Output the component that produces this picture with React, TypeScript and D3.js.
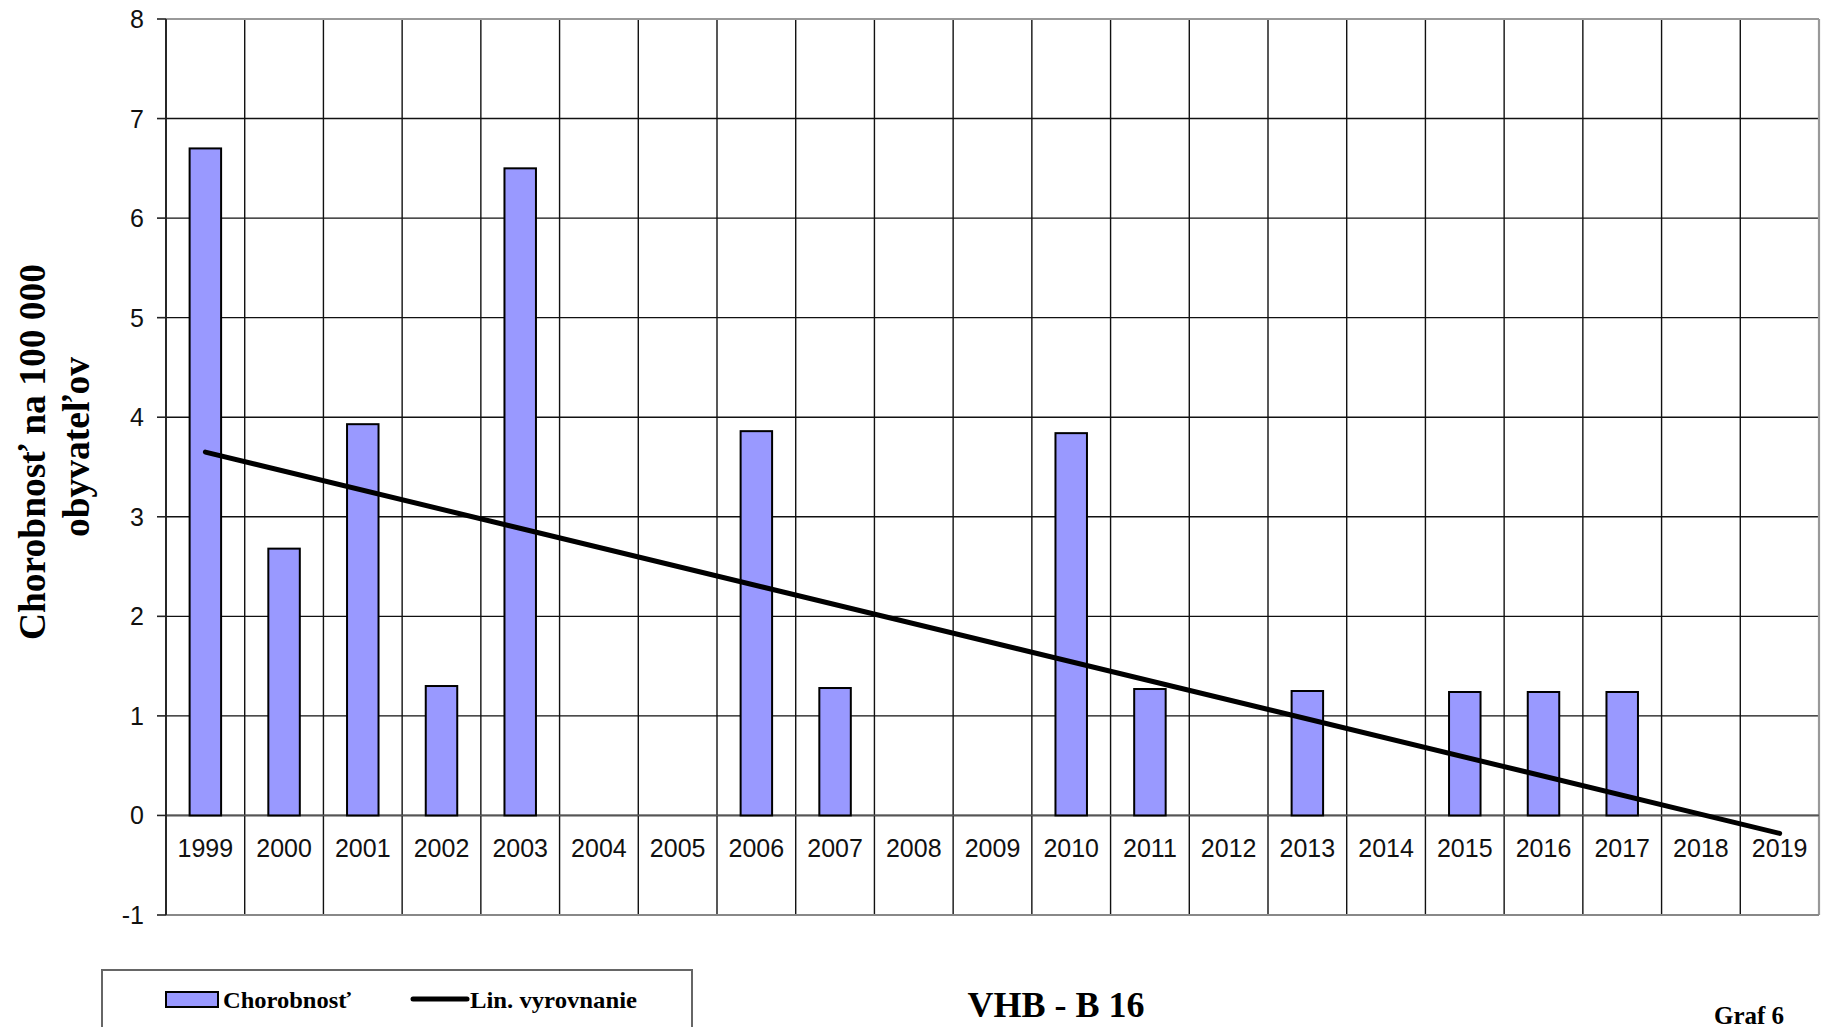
import React from "react";
import * as d3 from "d3";

const years: string[] = ["1999","2000","2001","2002","2003","2004","2005","2006","2007","2008","2009","2010","2011","2012","2013","2014","2015","2016","2017","2018","2019"];
const morbidity: (number | null)[] = [6.7, 2.68, 3.93, 1.3, 6.5, null, null, 3.86, 1.28, null, null, 3.84, 1.27, null, 1.25, null, 1.24, 1.24, 1.24, null, null];
const trendYears: string[] = ["1999", "2019"];
const trendValues: number[] = [3.65, -0.18];
const yTicks: number[] = [8, 7, 6, 5, 4, 3, 2, 1, 0, -1];

const W = 1822;
const H = 1027;
const left = 166;
const right = 1819;
const top = 19;
const bottom = 915;

export default function App() {
  const x = d3.scaleBand<string>().domain(years).range([left, right]).padding(0);
  const y = d3.scaleLinear().domain([-1, 8]).range([bottom, top]);
  const bw = x.bandwidth();
  const barW = bw * 0.4;
  const line = d3
    .line<number>()
    .x((_, i) => (x(trendYears[i]) as number) + bw / 2)
    .y((d) => y(d));

  const serif = "'Liberation Serif', 'Times New Roman', serif";
  const sans = "'Liberation Sans', Arial, sans-serif";

  return (
    <svg
      width={W}
      height={H}
      style={{ position: "absolute", left: 0, top: 0, display: "block", background: "#fff" }}
    >
      <rect x={0} y={0} width={W} height={H} fill="#fff" />
      {yTicks.map((t) => (
        <line key={"h" + t} x1={left} x2={right} y1={y(t)} y2={y(t)} stroke="#111" strokeWidth={1.4} />
      ))}
      {years.map((yr) => (
        <line
          key={"v" + yr}
          x1={x(yr) as number}
          x2={x(yr) as number}
          y1={top}
          y2={bottom}
          stroke="#111"
          strokeWidth={1.4}
        />
      ))}
      <line x1={left} x2={right} y1={top} y2={top} stroke="#999" strokeWidth={2.2} />
      <line x1={right} x2={right} y1={top} y2={bottom} stroke="#999" strokeWidth={2.2} />
      <line x1={left} x2={right} y1={bottom} y2={bottom} stroke="#888" strokeWidth={2.2} />
      <line x1={left} x2={right} y1={y(0)} y2={y(0)} stroke="#555" strokeWidth={1.8} />
      <line x1={left} x2={left} y1={top} y2={bottom} stroke="#222" strokeWidth={1.8} />
      {yTicks.map((t) => (
        <g key={"t" + t}>
          <line x1={left - 9} x2={left} y1={y(t)} y2={y(t)} stroke="#222" strokeWidth={1.6} />
          <text
            x={144}
            y={y(t)}
            dy="0.36em"
            textAnchor="end"
            fontFamily={sans}
            fontSize={25}
            fill="#111"
          >
            {t}
          </text>
        </g>
      ))}
      {years.map((yr, i) => {
        const v = morbidity[i];
        if (v == null) return null;
        return (
          <rect
            key={"b" + yr}
            x={(x(yr) as number) + bw / 2 - barW / 2}
            y={y(v)}
            width={barW}
            height={y(0) - y(v)}
            fill="#9999FF"
            stroke="#000"
            strokeWidth={2}
          />
        );
      })}
      {years.map((yr) => (
        <text
          key={"l" + yr}
          x={(x(yr) as number) + bw / 2}
          y={857}
          textAnchor="middle"
          fontFamily={sans}
          fontSize={25}
          fill="#111"
        >
          {yr}
        </text>
      ))}
      <path d={line(trendValues) || ""} fill="none" stroke="#000" strokeWidth={5} strokeLinecap="round" />
      <text
        transform={`translate(45,452) rotate(-90)`}
        textAnchor="middle"
        fontFamily={serif}
        fontWeight="bold"
        fontSize={37.5}
        fill="#000"
      >
        Chorobnosť  na 100 000
      </text>
      <text
        transform={`translate(89,447) rotate(-90)`}
        textAnchor="middle"
        fontFamily={serif}
        fontWeight="bold"
        fontSize={37.5}
        fill="#000"
      >
        obyvateľov
      </text>
      <rect x={102} y={970} width={590} height={80} fill="#fff" stroke="#666" strokeWidth={2} />
      <rect x={166} y={992} width={52} height={15} fill="#9999FF" stroke="#000" strokeWidth={2} />
      <text x={223} y={1008} fontFamily={serif} fontWeight="bold" fontSize={24} textLength={128} lengthAdjust="spacingAndGlyphs">
        Chorobnosť
      </text>
      <line x1={413} x2={467} y1={999} y2={999} stroke="#000" strokeWidth={5} strokeLinecap="round" />
      <text x={470} y={1008} fontFamily={serif} fontWeight="bold" fontSize={24} textLength={167} lengthAdjust="spacingAndGlyphs">
        Lin. vyrovnanie
      </text>
      <text x={1056} y={1017} textAnchor="middle" fontFamily={serif} fontWeight="bold" fontSize={36} fill="#000">
        VHB - B 16
      </text>
      <text x={1749} y={1024} textAnchor="middle" fontFamily={serif} fontWeight="bold" fontSize={25} fill="#000">
        Graf 6
      </text>
    </svg>
  );
}
